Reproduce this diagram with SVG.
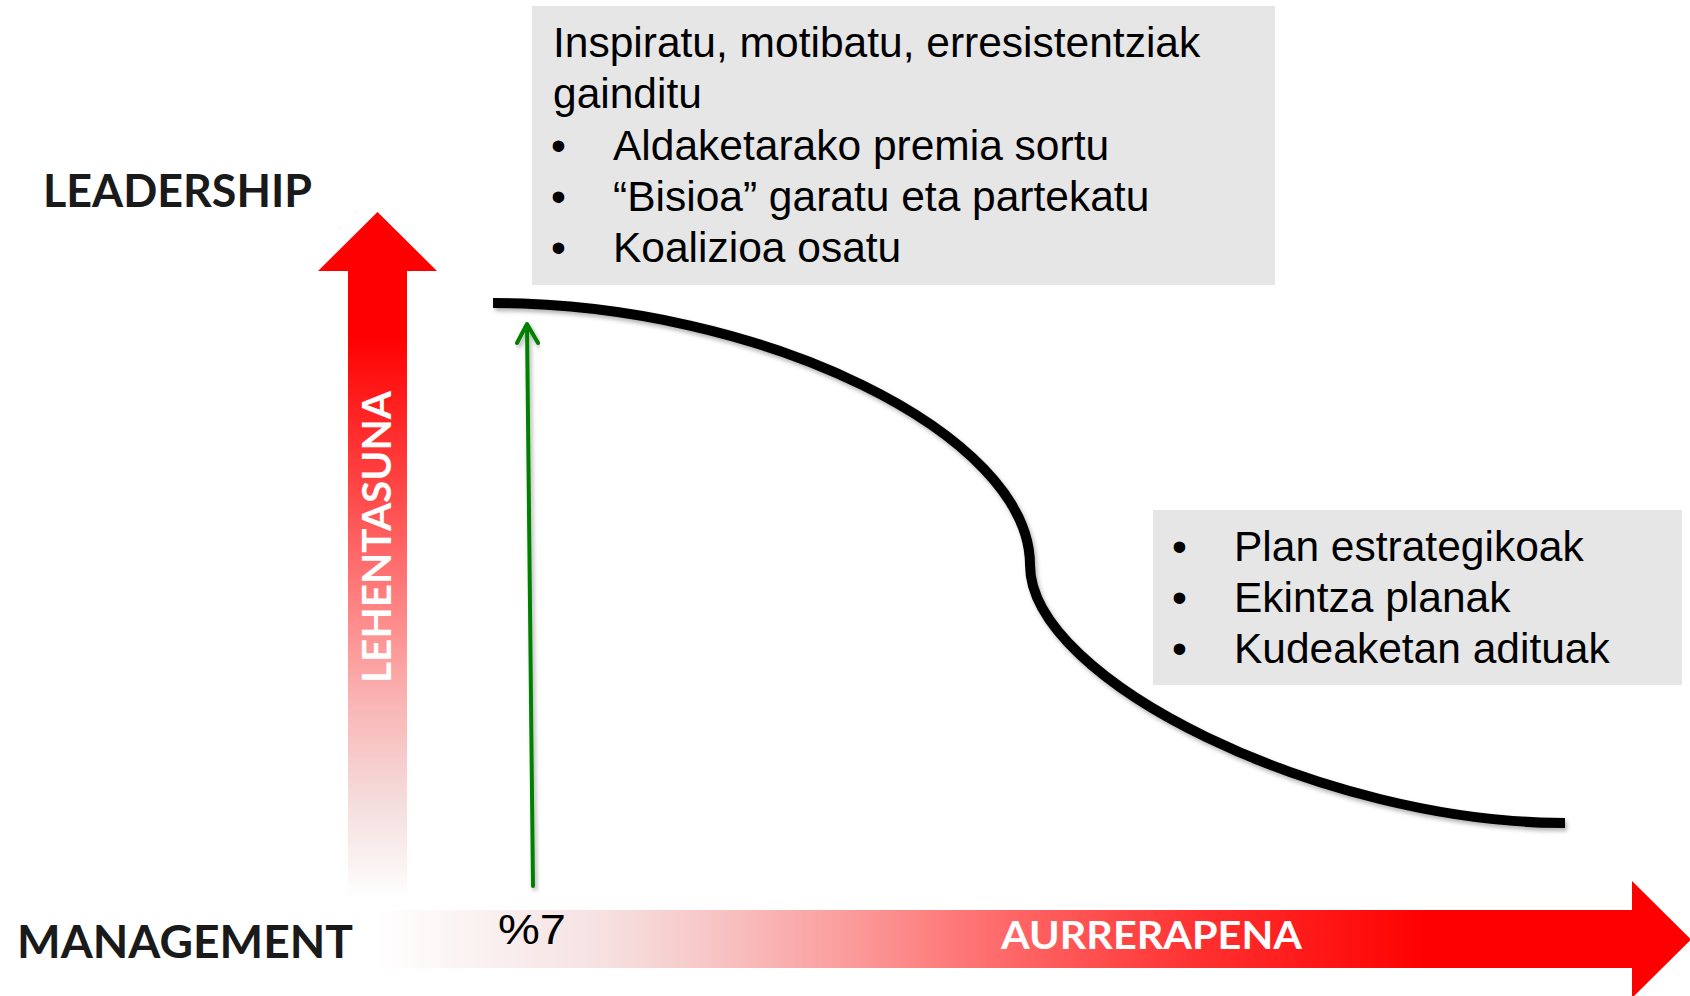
<svg xmlns="http://www.w3.org/2000/svg" width="1690" height="996" viewBox="0 0 1690 996">
<style>
.box{fill:#E6E6E6}
.bt{font-family:"Liberation Sans",Arial,sans-serif;font-size:42.5px;fill:#000}
.hd{font-family:Lato,"Open Sans",sans-serif;font-weight:bold;font-size:46px;fill:#1a1a1a}
.wt{font-family:Lato,"Open Sans",sans-serif;font-weight:bold;fill:#fff}
</style>
<defs>
<linearGradient id="gv" gradientUnits="userSpaceOnUse" x1="0" y1="900" x2="0" y2="212">
<stop offset="0" stop-color="#FFFFFF"/>
<stop offset="0.145" stop-color="#F4DCDC"/>
<stop offset="0.29" stop-color="#FAB4B4"/>
<stop offset="0.436" stop-color="#FF8080"/>
<stop offset="0.58" stop-color="#FF4C4C"/>
<stop offset="0.756" stop-color="#FF1414"/>
<stop offset="0.82" stop-color="#FF0000"/>
<stop offset="1" stop-color="#FF0000"/>
</linearGradient>
<linearGradient id="gh" gradientUnits="userSpaceOnUse" x1="372" y1="0" x2="1691" y2="0">
<stop offset="0" stop-color="#FFFFFF"/>
<stop offset="0.17" stop-color="#F6E2E2"/>
<stop offset="0.25" stop-color="#F7C8C8"/>
<stop offset="0.36" stop-color="#FB9C9C"/>
<stop offset="0.476" stop-color="#FF6A6A"/>
<stop offset="0.628" stop-color="#FF3030"/>
<stop offset="0.8" stop-color="#FF0000"/>
<stop offset="1" stop-color="#FF0000"/>
</linearGradient>
<filter id="sh" x="-5%" y="-5%" width="110%" height="115%">
<feDropShadow dx="2" dy="3" stdDeviation="2" flood-color="#000" flood-opacity="0.3"/>
</filter>
</defs>

<g id="axis-vertical">
<path d="M318,271 L377.5,212 L437,271 L407,271 L407,900 L348,900 L348,271 Z" fill="url(#gv)"/>
<text class="wt" font-size="40.5" transform="translate(391,683) rotate(-90)" textLength="292" lengthAdjust="spacingAndGlyphs">LEHENTASUNA</text>
</g>

<g id="axis-horizontal">
<path d="M372,910 L1632,910 L1632,881 L1691,939.5 L1632,998 L1632,968 L372,968 Z" fill="url(#gh)"/>
<text class="wt" font-size="39" x="1001" y="949" textLength="301" lengthAdjust="spacingAndGlyphs">AURRERAPENA</text>
</g>

<g id="label-leadership">
<text class="hd" x="43" y="207" textLength="269" lengthAdjust="spacingAndGlyphs">LEADERSHIP</text>
</g>
<g id="label-management">
<text class="hd" x="17" y="958" textLength="336" lengthAdjust="spacingAndGlyphs">MANAGEMENT</text>
</g>

<g id="label-7">
<text class="bt" font-size="46" x="498" y="944" textLength="68" lengthAdjust="spacingAndGlyphs">%7</text>
</g>

<g id="curve">
<path d="M493,303 C761,303 1030,434 1030,565 C1030,681 1324,823 1565,823" fill="none" stroke="#000" stroke-width="10" filter="url(#sh)"/>
</g>

<g id="box-leadership">
<rect class="box" x="532" y="6" width="743" height="279"/>
<text class="bt" x="553" y="57">Inspiratu, motibatu, erresistentziak</text>
<text class="bt" x="553" y="108">gainditu</text>
<text class="bt" x="551" y="160">•</text><text class="bt" x="613" y="160">Aldaketarako premia sortu</text>
<text class="bt" x="551" y="211">•</text><text class="bt" x="613" y="211">“Bisioa” garatu eta partekatu</text>
<text class="bt" x="551" y="262">•</text><text class="bt" x="613" y="262">Koalizioa osatu</text>
</g>

<g id="box-management">
<rect class="box" x="1153" y="510" width="529" height="175"/>
<text class="bt" x="1172" y="561">•</text><text class="bt" x="1234" y="561">Plan estrategikoak</text>
<text class="bt" x="1172" y="612">•</text><text class="bt" x="1234" y="612">Ekintza planak</text>
<text class="bt" x="1172" y="663">•</text><text class="bt" x="1234" y="663">Kudeaketan adituak</text>
</g>

<g id="connectors">
<g fill="none" stroke="#008000" stroke-width="4" stroke-linecap="round" stroke-linejoin="round" filter="url(#sh)">
<line x1="533" y1="886" x2="527" y2="325"/>
<polyline points="517,343 527,324 538,343"/>
</g>
</g>
</svg>
